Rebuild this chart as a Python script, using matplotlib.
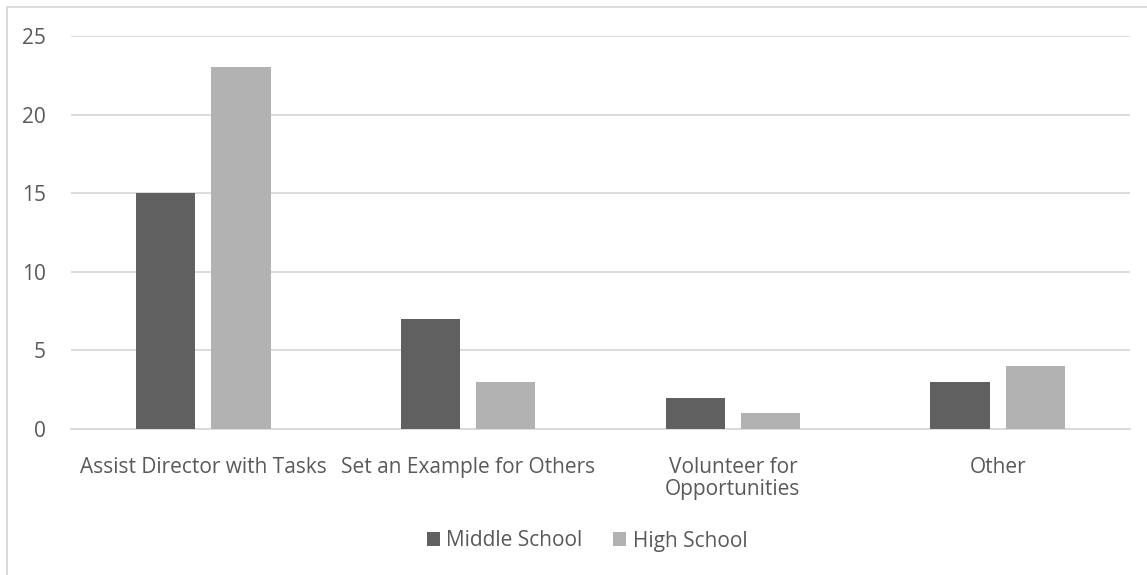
import matplotlib.pyplot as plt
import numpy as np
from matplotlib.patches import Rectangle

categories = ["Assist Director with Tasks", "Set an Example for Others",
              "Volunteer for\nOpportunities", "Other"]
middle_school = [15, 7, 2, 3]
high_school = [23, 3, 1, 4]
yticks = [0, 5, 10, 15, 20, 25]

text_color = "#595959"
grid_color = "#d9d9d9"
plt.rcParams['font.family'] = ['Open Sans', 'DejaVu Sans']

fig = plt.figure(figsize=(11.47, 5.75), dpi=100)
ax = fig.add_axes([71 / 1147, 1 - 429 / 575, (1130 - 71) / 1147, (429 - 36) / 575])

x = np.arange(len(categories))
w = 0.224
gap = 0.06
ax.bar(x - (w + gap) / 2, middle_school, w, color="#606060", label="Middle School", zorder=3)
ax.bar(x + (w + gap) / 2, high_school, w, color="#b2b2b2", label="High School", zorder=3)

ax.set_xlim(-0.5, len(categories) - 0.5)
ax.set_ylim(0, 25)
ax.set_yticks(yticks)
ax.set_xticks(x)
ax.set_xticklabels(categories, linespacing=1.05)
ax.yaxis.grid(True, color=grid_color, linewidth=1.3, zorder=0)
for s in ["top", "right", "left"]:
    ax.spines[s].set_visible(False)
ax.spines["bottom"].set_color(grid_color)
ax.spines["bottom"].set_linewidth(1.3)
ax.tick_params(axis="both", length=0, labelsize=15, colors=text_color)
ax.tick_params(axis="y", pad=18)
ax.tick_params(axis="x", pad=20)

fig.legend(loc="center", bbox_to_anchor=(587 / 1147, 1 - 541 / 575), ncol=2, frameon=False,
           fontsize=15, labelcolor=text_color, handlelength=0.65, handleheight=0.65,
           handletextpad=0.3, columnspacing=1.45)

# chart frame (only top/left edges fall inside the image)
fig.patches.append(Rectangle((7 / 1147, -0.1), 1.2, 1 - 7 / 575 + 0.1, transform=fig.transFigure,
                             fill=False, edgecolor=grid_color, linewidth=1.3))

fig.savefig("out.png", dpi=100)
